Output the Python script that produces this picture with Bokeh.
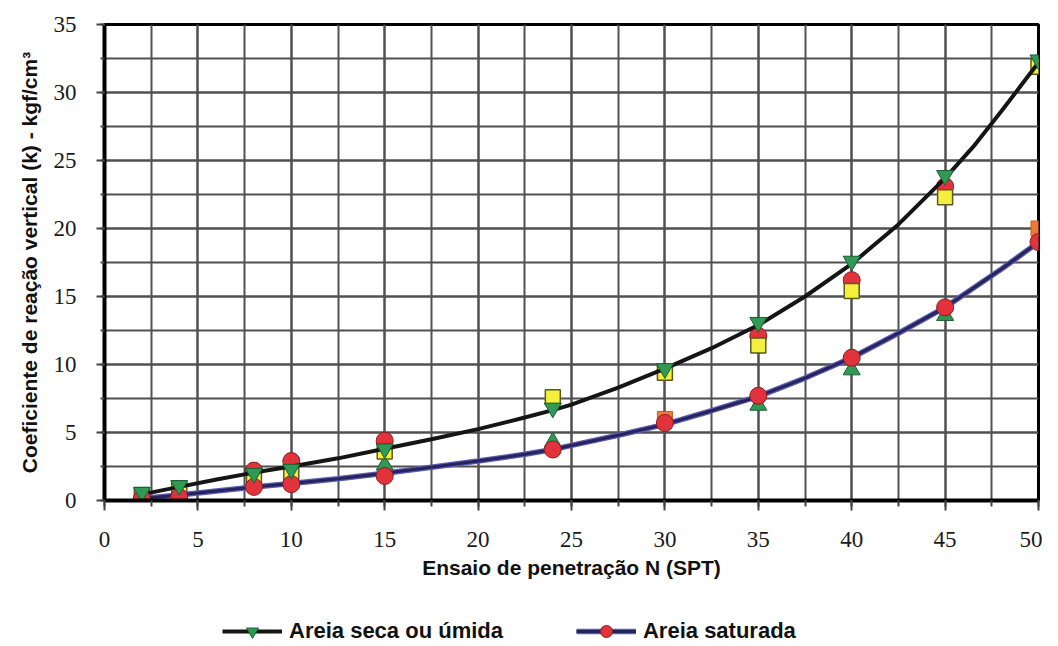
from bokeh.plotting import figure
from bokeh.layouts import column
from bokeh.models import (Range1d, SingleIntervalTicker, Legend, LegendItem)
from bokeh.embed import file_html
from bokeh.resources import INLINE

# ---- data ----
N_pts = [2, 4, 8, 10, 15, 24, 30, 35, 40, 45, 50]
dry_tri = [0.6, 1.1, 2.0, 2.3, 3.8, 6.8, 9.7, 13.1, 17.6, 23.9, 32.4]
sat_circ = [0.15, 0.25, 1.0, 1.2, 1.8, 3.75, 5.7, 7.7, 10.5, 14.2, 19.0]

yellow_N = [2, 4, 8, 10, 15, 24, 30, 35, 40, 45, 50]
yellow_k = [0.4, 0.9, 1.5, 2.0, 3.6, 7.6, 9.4, 11.4, 15.4, 22.3, 31.9]

red_up_N = [8, 10, 15, 35, 40, 45]
red_up_k = [2.2, 2.9, 4.4, 12.1, 16.2, 23.1]

green_up_N = [15, 24, 35, 40, 45]
green_up_k = [2.6, 4.3, 7.0, 9.6, 13.6]

orange_N = [4, 30, 50]
orange_k = [0.3, 6.0, 20.0]

curve_N = [2, 4, 6, 8, 10, 12.5, 15, 17.5, 20, 22.5, 24, 25, 27.5, 30, 32.5, 35,
           37.5, 40, 42.5, 45, 46.5, 48, 49, 50]
curve_dry = [0.45, 1.0, 1.55, 2.05, 2.5, 3.1, 3.8, 4.5, 5.25, 6.1, 6.65, 7.05, 8.3,
             9.7, 11.2, 12.9, 15.0, 17.4, 20.3, 23.7, 26.0, 28.6, 30.4, 32.2]
curve_sat = [0.15, 0.4, 0.7, 1.0, 1.25, 1.6, 2.0, 2.45, 2.9, 3.4, 3.75, 4.05, 4.8,
             5.6, 6.6, 7.65, 9.0, 10.5, 12.3, 14.2, 15.6, 17.0, 18.0, 19.0]

series_labels = ["Areia seca ou úmida", "Areia saturada"]

SANS = "Liberation Sans"
SERIF = "Liberation Serif"

DRY_LINE = dict(line_color="#151515", line_width=4)
SAT_EDGE = dict(line_color="#5a5cb0", line_width=5.5)
SAT_LINE = dict(line_color="#26235e", line_width=3)
RED_PT = dict(marker="circle", size=17, fill_color="#e2333d", line_color="#8a1d22", line_width=1)
GREEN_DN = dict(marker="inverted_triangle", size=17, fill_color="#2f9a55",
                line_color="#1d5e33", line_width=1)

p = figure(width=1042, height=600, output_backend="svg", toolbar_location=None,
           x_range=Range1d(0, 50), y_range=Range1d(0, 35),
           min_border_left=104, min_border_right=4, min_border_top=24,
           min_border_bottom=100)
p.background_fill_color = "white"
p.border_fill_color = "white"
p.outline_line_color = "black"
p.outline_line_width = 3

p.xaxis.ticker = SingleIntervalTicker(interval=5, num_minor_ticks=2)
p.yaxis.ticker = SingleIntervalTicker(interval=5, num_minor_ticks=2)
for ax in (p.xaxis, p.yaxis):
    ax.axis_line_color = "black"
    ax.axis_line_width = 4
    ax.major_tick_line_color = "#444444"
    ax.minor_tick_line_color = "#444444"
    ax.major_tick_line_width = 2
    ax.minor_tick_line_width = 2
    ax.major_tick_in = 0
    ax.minor_tick_in = 0
    ax.major_label_text_font = SERIF
    ax.major_label_text_font_size = "23px"
    ax.major_label_text_color = "#1a1a1a"
    ax.axis_label_text_font = SANS
    ax.axis_label_text_font_style = "bold"
    ax.axis_label_text_font_size = "21px"
    ax.axis_label_text_color = "#111111"
p.xaxis.major_tick_out = 10
p.xaxis.minor_tick_out = 6
p.yaxis.major_tick_out = 8
p.yaxis.minor_tick_out = 4
p.xaxis.major_label_standoff = 21
p.yaxis.major_label_standoff = 20
p.xaxis.axis_label = "Ensaio de penetração N (SPT)"
p.yaxis.axis_label = "Coeficiente de reação vertical (k) - kgf/cm³"
p.xaxis.axis_label_standoff = 6
p.yaxis.axis_label_standoff = 10

for g in (p.xgrid, p.ygrid):
    g.grid_line_color = "#505050"
    g.grid_line_width = 2
    g.minor_grid_line_color = "#505050"
    g.minor_grid_line_width = 2

# ---- unlabeled data markers (drawn beneath) ----
p.scatter(green_up_N, green_up_k, marker="triangle", size=17,
          fill_color="#2f9a55", line_color="#1d5e33", line_width=1)
p.scatter(orange_N, orange_k, marker="square", size=15,
          fill_color="#f07a35", line_color="#c25a20", line_width=1)
p.scatter(red_up_N, red_up_k, **RED_PT)
p.scatter(yellow_N, yellow_k, marker="square", size=15,
          fill_color="#f4ef3c", line_color="#5a5a20", line_width=1.5)

# ---- curves ----
p.line(curve_N, curve_dry, **DRY_LINE)
p.line(curve_N, curve_sat, **SAT_EDGE)
p.line(curve_N, curve_sat, **SAT_LINE)
p.scatter(N_pts, sat_circ, **RED_PT)
p.scatter(N_pts, dry_tri, **GREEN_DN)

# ---- legend strip below the chart (its series lie outside its own view) ----
q = figure(width=1042, height=46, output_backend="svg", toolbar_location=None,
           x_range=Range1d(0, 1), y_range=Range1d(0, 1),
           x_axis_type=None, y_axis_type=None,
           min_border_left=0, min_border_right=0, min_border_top=0, min_border_bottom=0)
q.outline_line_color = None
q.xgrid.visible = False
q.ygrid.visible = False
q.border_fill_color = "white"
l1 = q.line(curve_N, curve_dry, **DRY_LINE)
m1 = q.scatter(N_pts, dry_tri, **GREEN_DN)
l2a = q.line(curve_N, curve_sat, **SAT_EDGE)
l2b = q.line(curve_N, curve_sat, **SAT_LINE)
m2 = q.scatter(N_pts, sat_circ, **RED_PT)

legend = Legend(items=[
    LegendItem(label=series_labels[0], renderers=[l1, m1]),
    LegendItem(label=series_labels[1], renderers=[l2a, l2b, m2]),
], orientation="horizontal", location=(118, 0))
legend.label_text_font = SANS
legend.label_text_font_style = "bold"
legend.label_text_font_size = "22px"
legend.label_text_color = "#111111"
legend.glyph_width = 60
legend.glyph_height = 30
legend.label_standoff = 7
legend.spacing = 73
legend.padding = 0
legend.margin = 0
legend.border_line_color = None
legend.background_fill_alpha = 0
q.add_layout(legend, "center")

layout = column(p, q, spacing=0)
open("out.html", "w").write(file_html(layout, INLINE))
